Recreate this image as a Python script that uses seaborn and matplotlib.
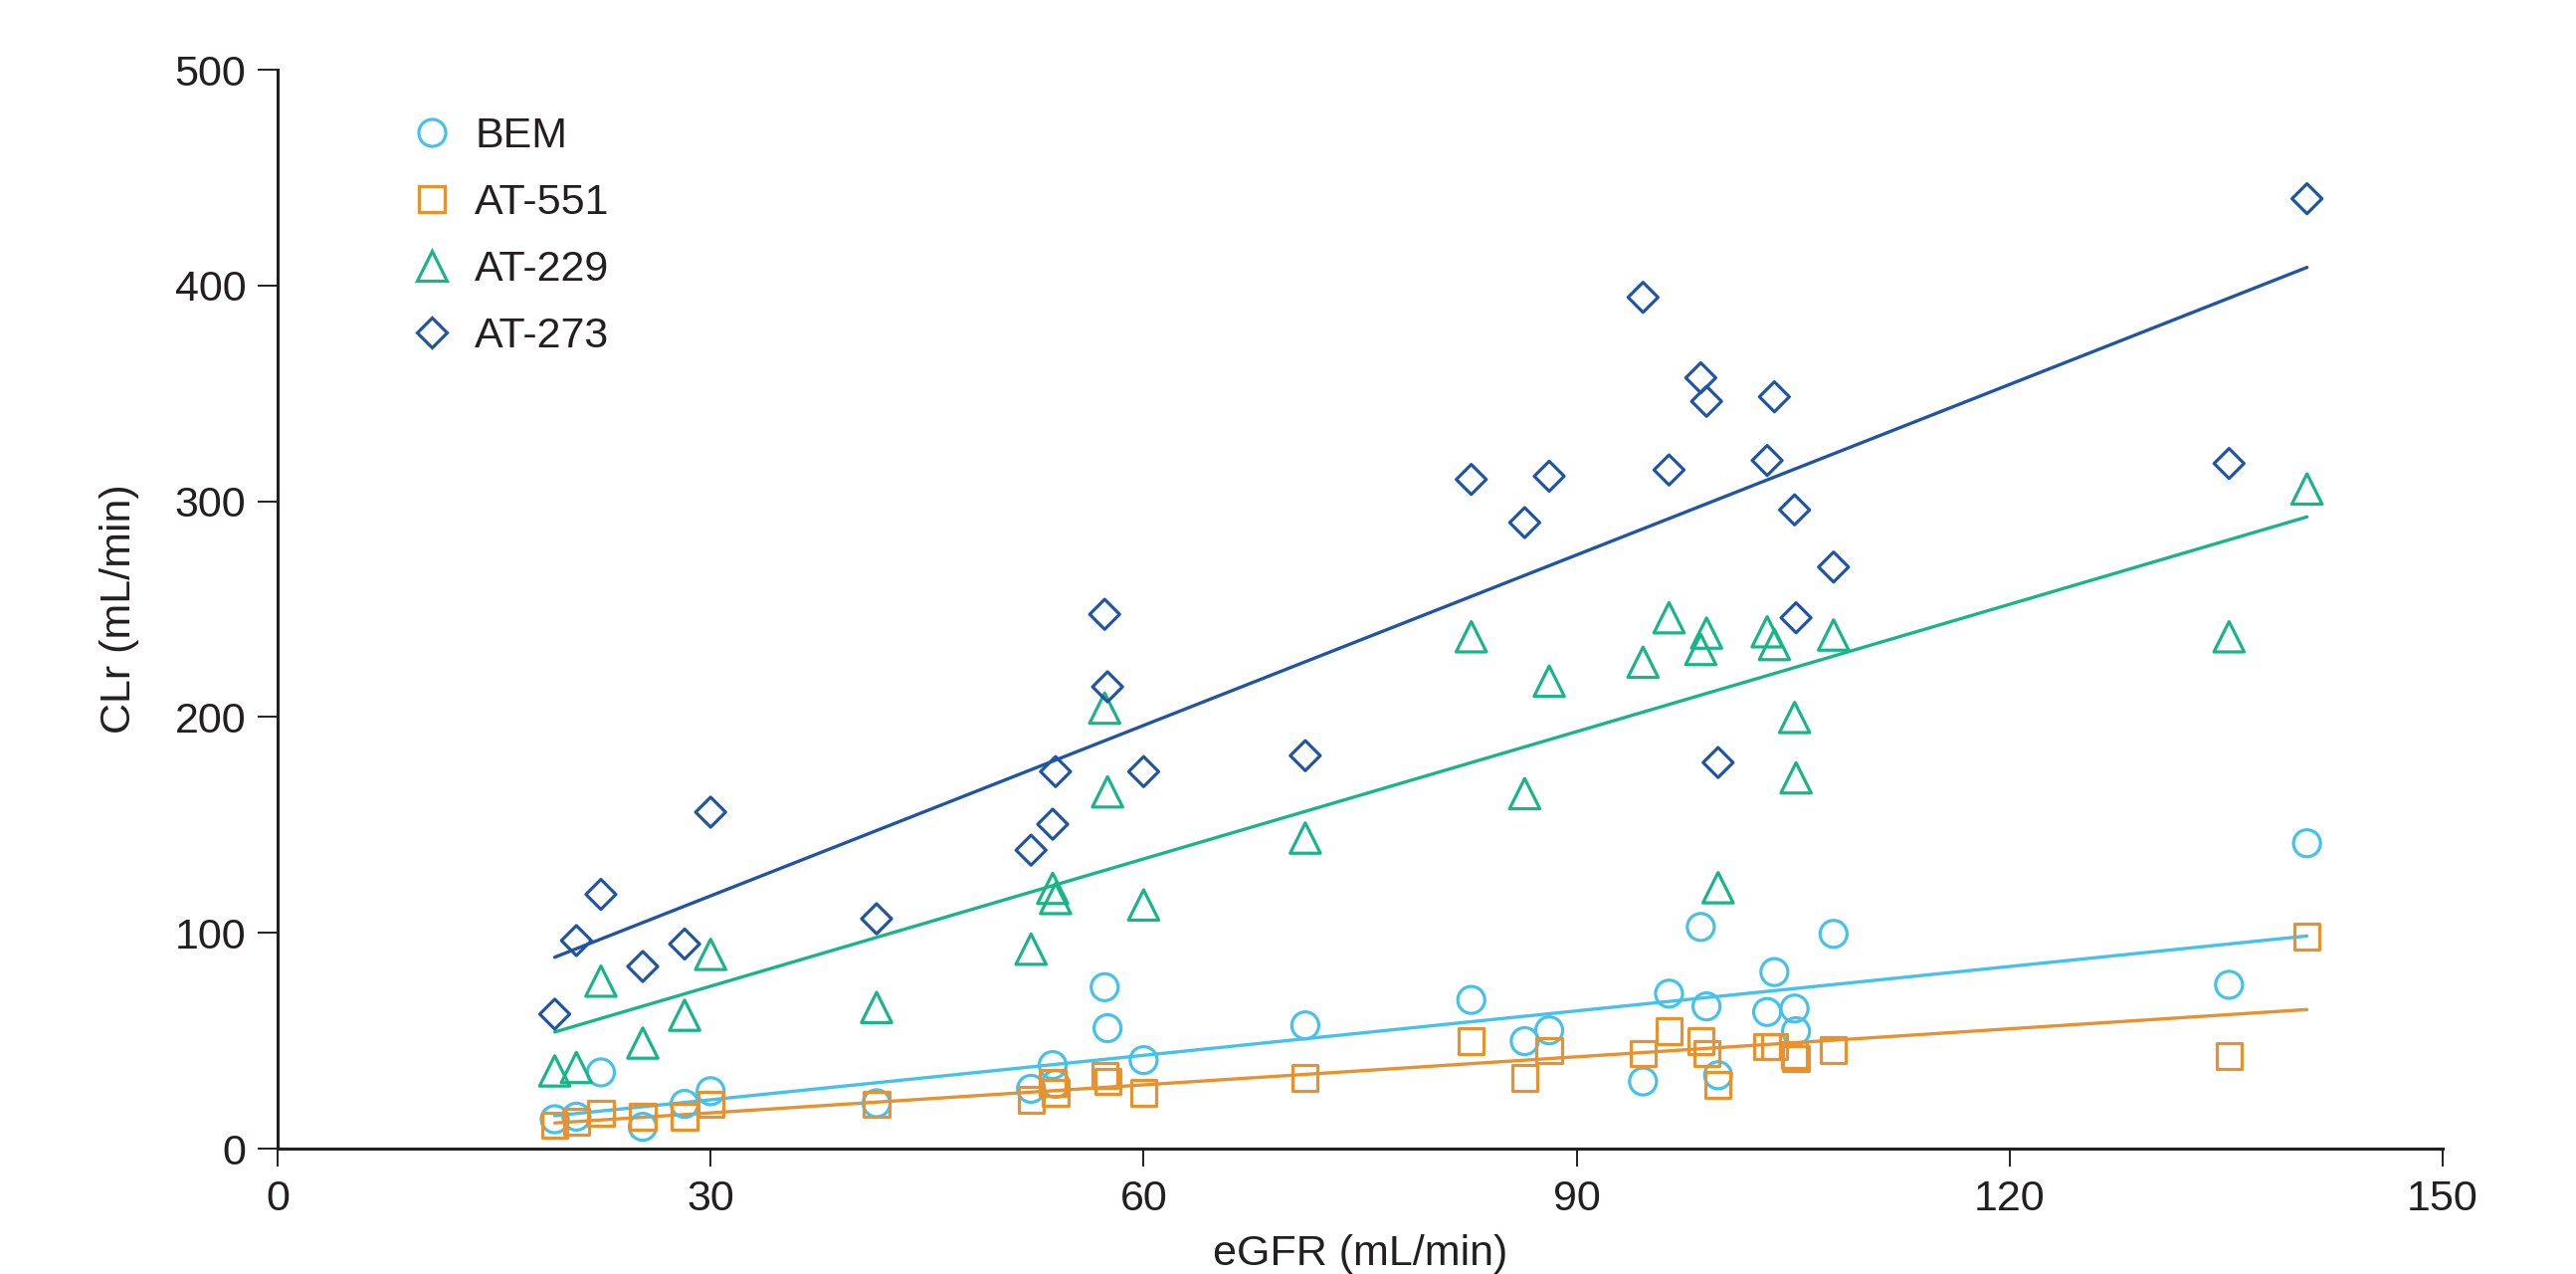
import matplotlib
matplotlib.use("Agg")
import numpy as np
import pandas as pd
import matplotlib.pyplot as plt
import seaborn as sns
from matplotlib.lines import Line2D

# ---- data ----
egfr = [19.2, 20.7, 22.4, 25.3, 28.2, 30.0, 41.5, 52.2, 53.7, 53.9, 57.3, 57.5, 60.0,
        71.2, 82.7, 86.4, 88.1, 94.6, 96.4, 98.6, 99.0, 99.8, 103.2, 103.7, 105.1,
        105.2, 107.8, 135.2, 140.6]
bem = [13.6, 14.8, 35.3, 10.1, 20.7, 26.6, 21.0, 27.7, 38.7, 30.0, 74.8, 55.8, 41.0,
       57.1, 68.9, 49.8, 54.8, 31.1, 71.8, 102.7, 65.9, 34.0, 63.3, 81.8, 64.9,
       54.4, 99.5, 75.9, 141.5]
at551 = [10.8, 12.5, 16.5, 14.8, 14.8, 20.7, 20.7, 22.6, 30.4, 25.8, 34.0, 31.0, 25.8,
         32.7, 49.8, 32.7, 45.3, 44.1, 54.4, 49.8, 44.1, 29.5, 47.3, 47.3, 43.4,
         41.9, 45.7, 42.9, 98.3]
at229 = [36.0, 37.6, 77.6, 48.9, 61.8, 90.0, 65.4, 92.4, 120.6, 115.9, 204.1, 165.3, 112.9,
         143.9, 237.2, 164.5, 216.6, 225.4, 246.0, 231.3, 238.9, 120.9, 239.5, 233.6, 199.8,
         171.8, 238.0, 237.2, 305.7]
at273 = [62.3, 96.4, 117.8, 84.4, 94.8, 155.9, 106.5, 138.3, 150.3, 174.7, 247.6, 214.0, 174.7,
         182.1, 310.1, 290.1, 311.6, 394.5, 314.5, 357.2, 346.3, 178.9, 318.9, 348.4, 296.0,
         246.0, 269.5, 317.5, 440.2]

series_names = ["BEM", "AT-551", "AT-229", "AT-273"]
series_values = [bem, at551, at229, at273]
x_ticks = [0, 30, 60, 90, 120, 150]
y_ticks = [0, 100, 200, 300, 400, 500]
x_label = "eGFR (mL/min)"
y_label = "CLr (mL/min)"

# ---- styles ----
colors = ["#45C1EE", "#E8912F", "#19B588", "#2055A4"]
markers = ["o", "s", "^", "D"]
sizes = [380, 330, 480, 235]
edge_lw = 2.3
ink = "#231F20"

sns.set_style("ticks")
plt.rcParams["font.family"] = ["Liberation Sans", "DejaVu Sans"]
plt.rcParams["font.size"] = 31
plt.rcParams["text.color"] = ink
plt.rcParams["axes.labelcolor"] = ink
plt.rcParams["xtick.color"] = ink
plt.rcParams["ytick.color"] = ink

df = pd.DataFrame({"eGFR": egfr})
for n, v in zip(series_names, series_values):
    df[n] = v

W, H = 2589, 1280
fig = plt.figure(figsize=(W / 100, H / 100), dpi=100)
ax = fig.add_axes([279 / W, 126 / H, 2176 / W, 1084 / H])

for n, c, m, s in zip(series_names, colors, markers, sizes):
    sns.regplot(data=df, x="eGFR", y=n, ax=ax, ci=None, truncate=True, color=c,
                marker=m,
                scatter_kws=dict(s=s, facecolors="none", edgecolors=c,
                                 linewidths=edge_lw, alpha=1, zorder=3),
                line_kws=dict(lw=2.4, zorder=2))

ax.set_xlim(0, 150)
ax.set_ylim(0, 500)
ax.set_xticks(x_ticks)
ax.set_yticks(y_ticks)
ax.set_xlabel(x_label, fontsize=31)
ax.set_ylabel(y_label, fontsize=31)
ax.xaxis.set_label_coords(0.5, -0.079)
ax.yaxis.set_label_coords(-0.064, 0.5)
sns.despine(ax=ax)
for sp in ["left", "bottom"]:
    ax.spines[sp].set_linewidth(2.2)
    ax.spines[sp].set_color(ink)
ax.tick_params(axis="x", direction="out", length=13, width=1.4, pad=9, labelsize=31)
ax.tick_params(axis="y", direction="out", length=14.4, width=1.4, pad=8.5, labelsize=31)

handles = [Line2D([], [], marker=m, linestyle="none", markersize=np.sqrt(s),
                  markerfacecolor="none", markeredgecolor=c, markeredgewidth=edge_lw)
           for m, c, s in zip(markers, colors, sizes)]
ax.legend(handles, series_names, loc="upper left", bbox_to_anchor=(0.0614, 0.957),
          frameon=False, handlelength=1.0, handletextpad=0.5, labelspacing=0.63,
          borderpad=0, borderaxespad=0, fontsize=31)

fig.savefig("out.png", dpi=100)
